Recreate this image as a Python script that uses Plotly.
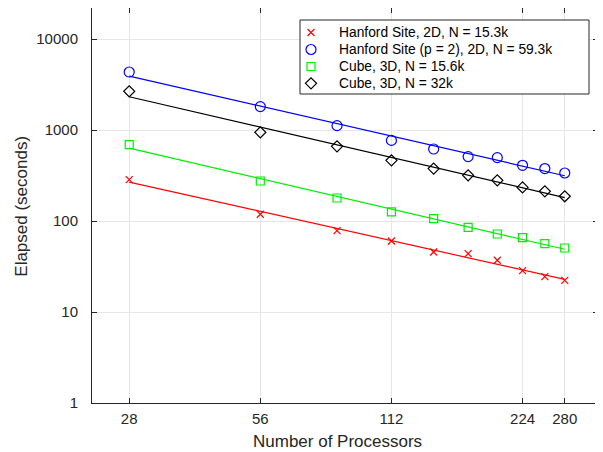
import numpy as np
import plotly.graph_objects as go

processors = [28, 56, 84, 112, 140, 168, 196, 224, 252, 280]

hanford_2d = [285, 118.6, 78.4, 60.3, 45.6, 43.8, 37.0, 28.5, 24.5, 22.3]
hanford_p2 = [4337, 1807, 1117, 769, 618, 510, 497, 409, 377, 337]
cube_156 = [691, 275, 179, 126, 106, 85.3, 72, 65.7, 56.5, 50.5]
cube_32 = [2663, 944, 662, 464, 377, 318, 280, 234, 212, 187]

names = [
    "Hanford Site, 2D, N = 15.3k",
    "Hanford Site (p = 2), 2D, N = 59.3k",
    "Cube, 3D, N = 15.6k",
    "Cube, 3D, N = 32k",
]
series = [hanford_2d, hanford_p2, cube_156, cube_32]
colors = ["#ff0000", "#0000ff", "#00ee00", "#000000"]
symbols = ["x-thin-open", "circle-open", "square-open", "diamond-open"]
sizes = [7, 10, 8, 8.5]

x_ticks = [28, 56, 112, 224, 280]
y_ticks = [1, 10, 100, 1000, 10000]

FONT = "Liberation Sans, Arial, Helvetica, sans-serif"
# page has an 8px body margin; figure sized to fit the 603x452 window
OFF = 8
W, H = 595, 444
L, R, T, B = 84, 5, 0, 49
PX0, PX1 = OFF + L, OFF + W - R      # plot area in page pixels
PY0, PY1 = OFF + H - B, OFF + T

fig = go.Figure()

# least-squares power-law fit lines
lx = np.log10(processors)
for ys, c in zip(series, colors):
    b, a = np.polyfit(lx, np.log10(ys), 1)
    xe = [processors[0], processors[-1]]
    ye = [10 ** (a + b * np.log10(v)) for v in xe]
    fig.add_trace(go.Scatter(x=xe, y=ye, mode="lines",
                             line=dict(color=c, width=1.2),
                             showlegend=False, hoverinfo="skip"))

for ys, n, c, s, sz in zip(series, names, colors, symbols, sizes):
    fig.add_trace(go.Scatter(x=processors, y=ys, mode="markers", name=n,
                             showlegend=False,
                             marker=dict(symbol=s, size=sz, color=c,
                                         line=dict(color=c, width=1.2))))

# manual legend on an overlay axis measured in page pixels
leg_left, leg_right, leg_top, leg_bottom = 300, 589, 20, 94
row_y = [32.5, 49.5, 66.5, 83.3]
sym_x = 311
txt_x = 337
fig.add_trace(go.Scatter(
    x=[leg_left, leg_right, leg_right, leg_left, leg_left],
    y=[leg_top, leg_top, leg_bottom, leg_bottom, leg_top],
    xaxis="x2", yaxis="y2", mode="lines", fill="toself",
    fillcolor="white", line=dict(color="#262626", width=1),
    showlegend=False, hoverinfo="skip"))
for yy, n, c, s, sz in zip(row_y, names, colors, symbols, sizes):
    fig.add_trace(go.Scatter(x=[sym_x], y=[yy], xaxis="x2", yaxis="y2",
                             mode="markers", showlegend=False, hoverinfo="skip",
                             marker=dict(symbol=s, size=sz, color=c,
                                         line=dict(color=c, width=1.2))))
    fig.add_annotation(x=txt_x, y=yy, xref="x2", yref="y2", text=n,
                       showarrow=False, xanchor="left", yanchor="middle",
                       font=dict(family=FONT, size=13.8, color="#000000"))

axis_common = dict(
    type="log", showline=True, linecolor="#262626", linewidth=1,
    mirror="ticks", ticks="inside", ticklen=5, tickcolor="#262626",
    showgrid=True, gridcolor="#e6e6e6", gridwidth=1, zeroline=False,
    automargin=False,
    tickfont=dict(family=FONT, size=15, color="#262626"),
)

fig.update_xaxes(**axis_common,
                 range=[np.log10(23.0), np.log10(333.8)],
                 tickvals=x_ticks, ticktext=[str(v) for v in x_ticks],
                 ticklabelstandoff=2)
fig.update_yaxes(**axis_common,
                 range=[0, (PY0 - PY1) / 91.0],
                 tickvals=y_ticks, ticktext=[str(v) for v in y_ticks],
                 ticklabelstandoff=10)

# axis titles
fig.add_annotation(text="Number of Processors", xref="paper", yref="paper",
                   x=(337 - PX0) / (PX1 - PX0), y=(PY0 - 441) / (PY0 - PY1),
                   xanchor="center", yanchor="middle", showarrow=False,
                   font=dict(family=FONT, size=17, color="#262626"))
fig.add_annotation(text="Elapsed (seconds)", xref="paper", yref="paper",
                   x=(22 - PX0) / (PX1 - PX0), y=(PY0 - 206.7) / (PY0 - PY1),
                   textangle=-90,
                   xanchor="center", yanchor="middle", showarrow=False,
                   font=dict(family=FONT, size=17, color="#262626"))

fig.update_layout(
    width=W, height=H,
    margin=dict(l=L, r=R, t=T, b=B),
    plot_bgcolor="white", paper_bgcolor="white",
    font=dict(family=FONT, size=13, color="#262626"),
    showlegend=False,
    xaxis2=dict(overlaying="x", anchor="y2", range=[PX0, PX1], visible=False,
                showgrid=False, zeroline=False, fixedrange=True),
    yaxis2=dict(overlaying="y", anchor="x2", range=[PY0, PY1], visible=False,
                showgrid=False, zeroline=False, fixedrange=True),
)

fig.write_html("out.html")
